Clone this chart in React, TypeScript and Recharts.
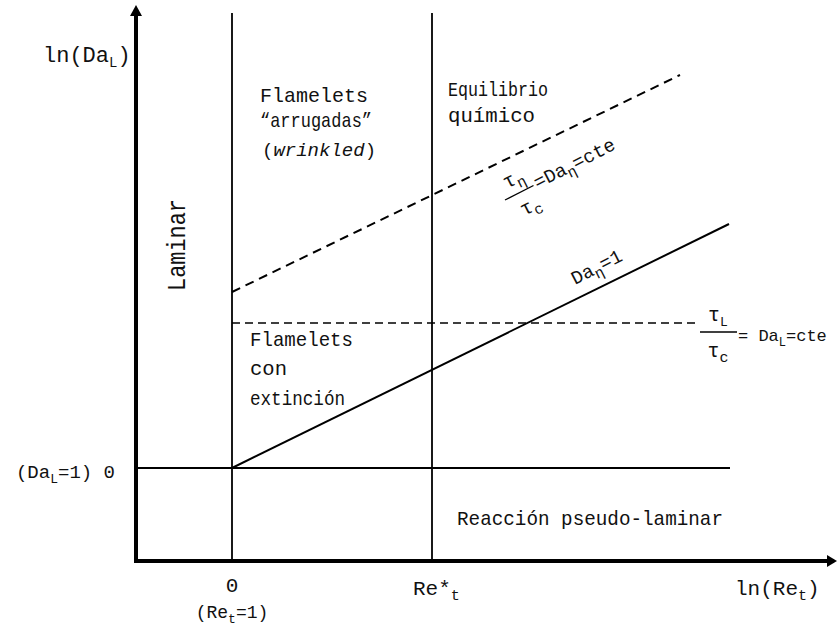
import { Line, LineChart, ReferenceDot, ReferenceLine, XAxis, YAxis } from "recharts"

const FONT = '"Liberation Mono", "Courier New", monospace'

const xDomain = [-0.96, 6]
const yDomain = [-0.93, 4.55]

// ln(Re_t) where the vertical boundaries sit (Re_t = 1 and Re*_t)
const boundaryX = [0, 2]
const xTicks = [0, 2]
const yTicks = [0]

// Da_eta = 1
const daEtaOneX = [0, 4.97]
const daEtaOneY = [0, 2.44]
// tau_eta / tau_c = Da_eta = cte
const daEtaCteX = [0, 4.48]
const daEtaCteY = [1.76, 3.93]
// tau_L / tau_c = Da_L = cte
const daLCteX = [0, 4.63]
const daLCteY = [1.45, 1.45]
// Da_L = 1
const daLOneX = [-0.96, 4.98]
const daLOneY = [0, 0]

const wrinkledLines = ["Flamelets", "“arrugadas”"]
const equilibriumLines = ["Equilibrio", "químico"]
const extinctionLines = ["Flamelets", "con", "extinción"]
const pseudoLaminar = "Reacción pseudo-laminar"
const laminar = "Laminar"

const pts = (xs: number[], ys: number[]) => xs.map((x, i) => ({ x, y: ys[i] }))

const T = (props: any) => <text fontFamily={FONT} fontSize={21} fill="#111" {...props} />

const Sub = ({ s, size = 13 }: { s: string; size?: number }) => (
  <tspan dy={5} fontSize={size}>{s}</tspan>
)

const note = (key: string, x: number, y: number, content: any) => (
  <ReferenceDot
    key={key}
    x={x}
    y={y}
    r={0}
    ifOverflow="visible"
    shape={(p: any) => <g transform={`translate(${p.cx},${p.cy})`}>{content}</g>}
  />
)

const XTick = (p: any) => {
  const v = p.payload.value
  if (v === 0) {
    return (
      <g>
        <T x={p.x} y={p.y + 31} textAnchor="middle">0</T>
        <T x={p.x} y={p.y + 57} textAnchor="middle" fontSize={18}>
          (Re<Sub s="t" /><tspan dy={-5}>=1)</tspan>
        </T>
      </g>
    )
  }
  return (
    <T x={p.x - 19} y={p.y + 34}>
      Re*<Sub s="t" size={15} />
    </T>
  )
}

const YTick = (p: any) => (
  <T x={p.x - 21} y={p.y + 10} textAnchor="end" fontSize={19}>
    (Da<Sub s="L" /><tspan dy={-5}>=1) 0</tspan>
  </T>
)

const arrowUp = (p: any) => (
  <polygon points={`${p.cx},${p.cy - 8} ${p.cx - 6},${p.cy + 3} ${p.cx + 6},${p.cy + 3}`} fill="#000" />
)
const arrowRight = (p: any) => (
  <polygon points={`${p.cx + 5},${p.cy} ${p.cx - 5},${p.cy - 6} ${p.cx - 5},${p.cy + 6}`} fill="#000" />
)

export default function App() {
  return (
    <div style={{ position: "fixed", left: 0, top: 0, background: "#fff" }}>
      <LineChart width={837} height={628} margin={{ top: 13, right: 5, left: 0, bottom: 0 }}>
        <XAxis
          type="number"
          dataKey="x"
          domain={xDomain}
          ticks={xTicks}
          allowDataOverflow
          height={67}
          tickSize={0}
          tickMargin={0}
          tickLine={false}
          axisLine={{ stroke: "#000", strokeWidth: 4, strokeLinecap: "square" }}
          tick={XTick}
        />
        <YAxis
          type="number"
          domain={yDomain}
          ticks={yTicks}
          allowDataOverflow
          width={136}
          tickSize={0}
          tickMargin={0}
          tickLine={false}
          axisLine={{ stroke: "#000", strokeWidth: 4, strokeLinecap: "square" }}
          tick={YTick}
        />

        {boundaryX.map((bx) => (
          <ReferenceLine key={bx} x={bx} stroke="#000" strokeWidth={1.8} />
        ))}

        <Line data={pts(daLOneX, daLOneY)} dataKey="y" stroke="#000" strokeWidth={1.8} dot={false} isAnimationActive={false} />
        <Line data={pts(daEtaOneX, daEtaOneY)} dataKey="y" stroke="#000" strokeWidth={2} dot={false} isAnimationActive={false} />
        <Line data={pts(daEtaCteX, daEtaCteY)} dataKey="y" stroke="#000" strokeWidth={2} strokeDasharray="9 6" dot={false} isAnimationActive={false} />
        <Line data={pts(daLCteX, daLCteY)} dataKey="y" stroke="#000" strokeWidth={1.6} strokeDasharray="8 5" dot={false} isAnimationActive={false} />

        <ReferenceDot x={xDomain[0]} y={yDomain[1]} r={0} ifOverflow="visible" shape={arrowUp} />
        <ReferenceDot x={xDomain[1]} y={yDomain[0]} r={0} ifOverflow="visible" shape={arrowRight} />

        {note("ytitle", xDomain[0], yDomain[1],
          <T x={-93} y={49} fontSize={22}>
            ln(Da<Sub s="L" size={14} /><tspan dy={-5}>)</tspan>
          </T>
        )}
        {note("xtitle", xDomain[1], yDomain[0],
          <T x={-97} y={34} fontSize={21}>
            ln(Re<Sub s="t" size={15} /><tspan dy={-5}>)</tspan>
          </T>
        )}

        {note("laminar", -0.47, 2.23,
          <T x={0} y={0} fontSize={25} textAnchor="middle" transform="rotate(-90)" textLength={92} lengthAdjust="spacingAndGlyphs">
            {laminar}
          </T>
        )}

        {note("wrinkled", 0.28, 3.66,
          <g>
            <T x={0} y={0} textLength={108} lengthAdjust="spacingAndGlyphs">{wrinkledLines[0]}</T>
            <T x={0} y={25} textLength={112} lengthAdjust="spacingAndGlyphs">{wrinkledLines[1]}</T>
            <T x={2} y={54} fontSize={19}>
              (<tspan fontStyle="italic">wrinkled</tspan>)
            </T>
          </g>
        )}

        {note("equilibrium", 2.16, 3.72,
          <g>
            <T x={0} y={0} textLength={100} lengthAdjust="spacingAndGlyphs">{equilibriumLines[0]}</T>
            <T x={0} y={26} textLength={87} lengthAdjust="spacingAndGlyphs">{equilibriumLines[1]}</T>
          </g>
        )}

        {note("extinction", 0.18, 1.22,
          <g>
            <T x={0} y={0} textLength={103} lengthAdjust="spacingAndGlyphs">{extinctionLines[0]}</T>
            <T x={0} y={29} textLength={37} lengthAdjust="spacingAndGlyphs">{extinctionLines[1]}</T>
            <T x={0} y={59} textLength={95} lengthAdjust="spacingAndGlyphs">{extinctionLines[2]}</T>
          </g>
        )}

        {note("pseudo", 2.25, -0.57,
          <T x={0} y={0} textLength={266} lengthAdjust="spacingAndGlyphs">{pseudoLaminar}</T>
        )}

        {note("etaCte", 2.73, 2.68,
          <g transform="rotate(-27)">
            <T x={17} y={-9} textAnchor="middle" fontSize={20}>
              τ<Sub s="η" size={15} />
            </T>
            <line x1={0} y1={0} x2={32} y2={0} stroke="#000" strokeWidth={1.3} />
            <T x={20} y={23} textAnchor="middle" fontSize={20}>
              τ<Sub s="c" size={15} />
            </T>
            <T x={34} y={5} fontSize={19}>
              =Da<Sub s="η" size={15} /><tspan dy={-5}>=cte</tspan>
            </T>
          </g>
        )}

        {note("etaOne", 3.43, 1.83,
          <T x={0} y={0} fontSize={19} transform="rotate(-27)">
            Da<Sub s="η" size={15} /><tspan dy={-5}>=1</tspan>
          </T>
        )}

        {note("lCte", 4.68, 1.36,
          <g>
            <T x={18} y={-11} textAnchor="middle" fontSize={20}>
              τ<Sub s="L" size={13} />
            </T>
            <line x1={0} y1={0} x2={37} y2={0} stroke="#000" strokeWidth={1.3} />
            <T x={18} y={25} textAnchor="middle" fontSize={20}>
              τ<Sub s="c" size={15} />
            </T>
            <T x={38} y={9} fontSize={17}>
              = Da<Sub s="L" size={12} /><tspan dy={-5}>=cte</tspan>
            </T>
          </g>
        )}
      </LineChart>
    </div>
  )
}
